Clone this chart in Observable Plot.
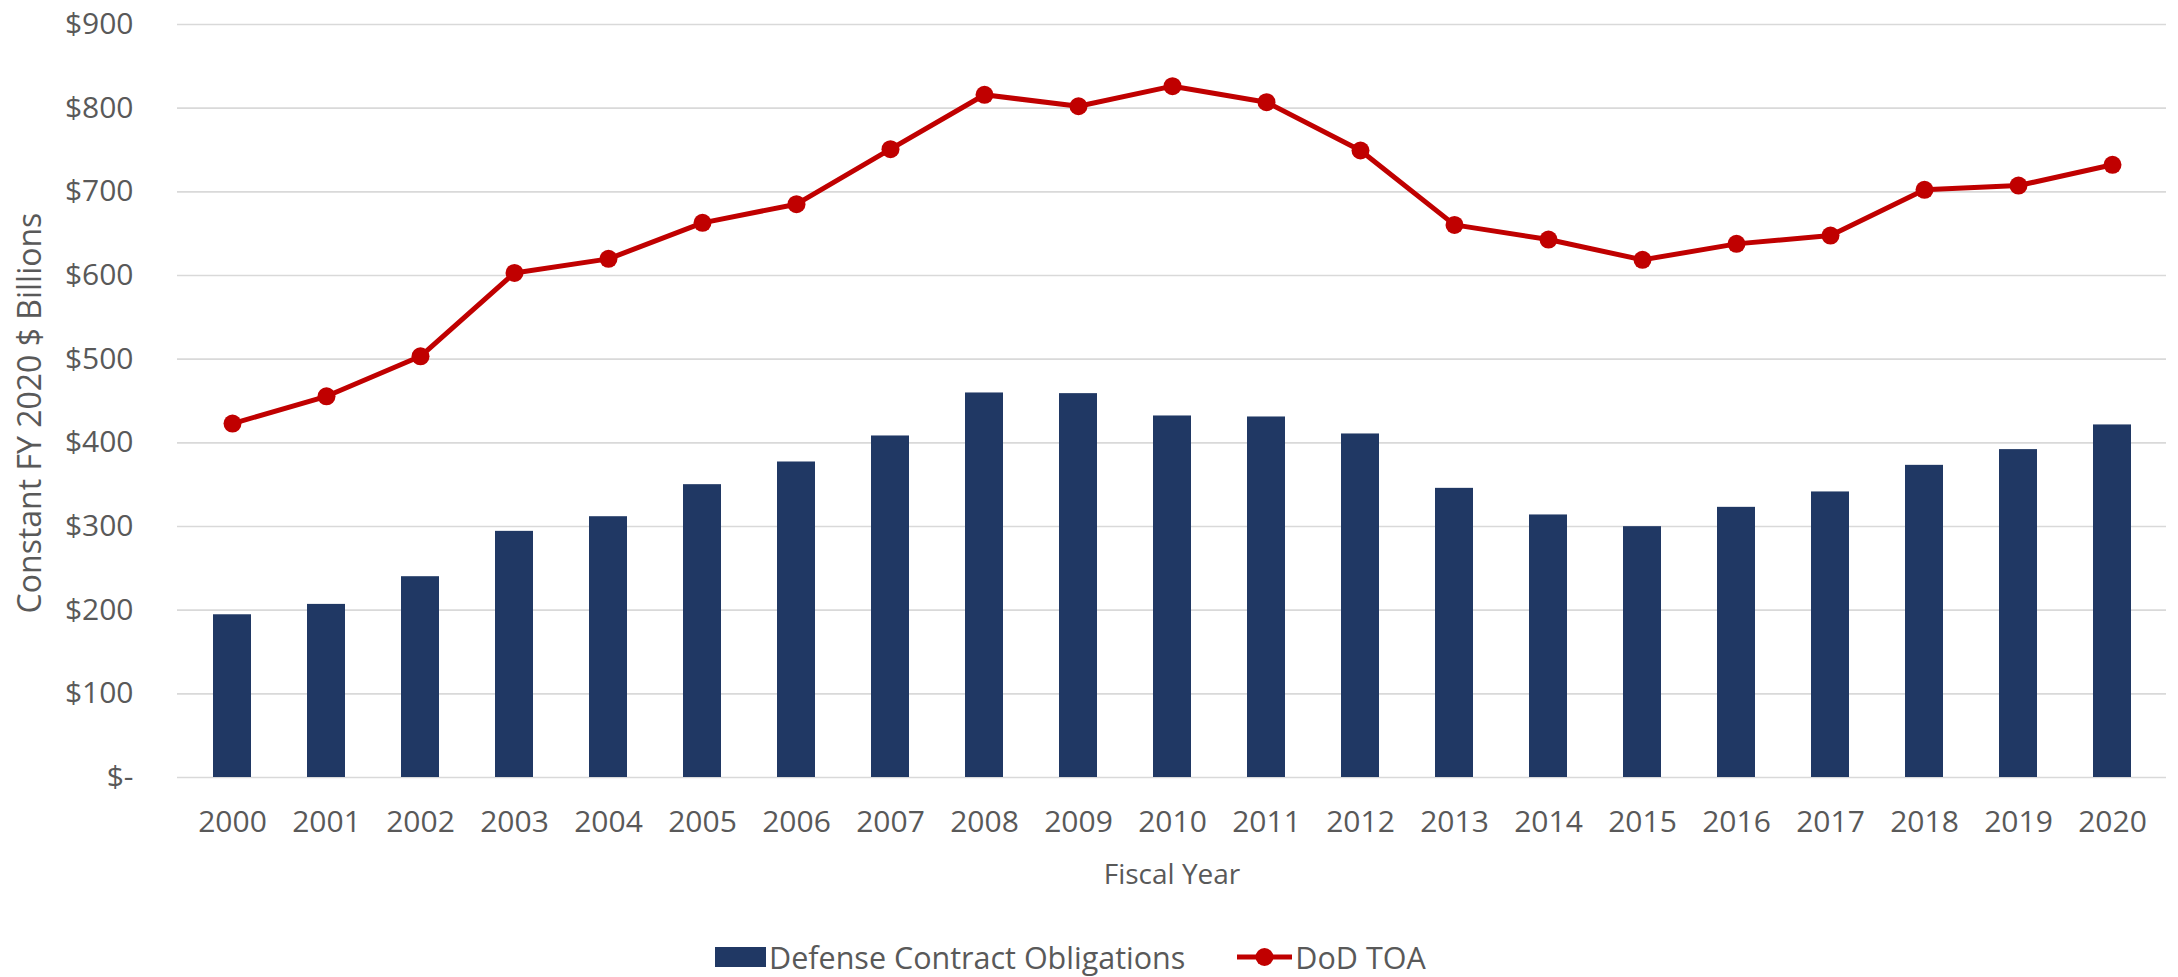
<!DOCTYPE html>
<html><head><meta charset="utf-8">
<script src="https://cdn.jsdelivr.net/npm/d3@7"></script>
<script src="https://cdn.jsdelivr.net/npm/@observablehq/plot@0.6"></script>
<style>
body{margin:0;background:#fff;font-family:"Open Sans",sans-serif;}
#chart{position:relative;width:2178px;height:977px;}
.legend{position:absolute;top:936px;left:715px;display:flex;align-items:center;font-size:30.5px;color:#595959;white-space:nowrap;}
.legend .sw{width:51px;height:20px;background:#203864;margin-right:3px;}
.legend .item2{margin-left:52px;display:flex;align-items:center;}
.legend svg{margin-right:3px;}
</style></head><body><div id="chart"></div>
<script>
const years = ["2000","2001","2002","2003","2004","2005","2006","2007","2008","2009","2010","2011","2012","2013","2014","2015","2016","2017","2018","2019","2020"];
const contractObligations = [194.5, 206.9, 240, 294.2, 311.7, 350, 377.1, 408.2, 459.6, 458.8, 432.1, 430.9, 410.6, 345.6, 313.8, 299.8, 322.9, 341.3, 373.1, 391.9, 421.4];
const dodTOA = [423, 455.6, 503.4, 603.1, 619.9, 662.9, 685.2, 751, 816, 802.3, 826.3, 807.1, 749.4, 660.5, 643, 618.7, 637.8, 647.7, 702.4, 707.5, 732.3];
const yTicks = [0, 100, 200, 300, 400, 500, 600, 700, 800, 900];
const seriesNames = ["Defense Contract Obligations", "DoD TOA"];
const xTitle = "Fiscal Year";
const yTitle = "Constant FY 2020 $ Billions";

const barColor = "#203864", lineColor = "#C00000", textColor = "#595959";
const data = years.map((year, i) => ({year, obligations: contractObligations[i], toa: dodTOA[i]}));

const plot = Plot.plot({
  width: 2178, height: 925,
  marginTop: 24, marginBottom: 148, marginLeft: 177, marginRight: 12,
  style: {fontFamily: "Open Sans", fontSize: "30px", color: textColor, background: "white"},
  x: {type: "band", domain: years, paddingInner: 0.6, paddingOuter: 0.3, label: null},
  y: {domain: [0, 900], label: null},
  marks: [
    Plot.gridY(yTicks, {stroke: "#D9D9D9", strokeOpacity: 1, strokeWidth: 1.6}),
    Plot.axisY({ticks: yTicks, tickSize: 0, tickPadding: 44, fontSize: 30, fill: textColor, label: null,
      tickFormat: d => d === 0 ? "$-" : "$" + d}),
    Plot.axisX({tickSize: 0, tickPadding: 33, fontSize: 30, fill: textColor, label: null}),
    Plot.barY(data, {x: "year", y: "obligations", fill: barColor}),
    Plot.line(data, {x: "year", y: "toa", stroke: lineColor, strokeWidth: 5}),
    Plot.dot(data, {x: "year", y: "toa", r: 9, fill: lineColor}),
    Plot.text([xTitle], {frameAnchor: "bottom", textAnchor: "middle", lineAnchor: "middle", dy: 98, fontSize: 28, fill: textColor}),
    Plot.text([yTitle], {frameAnchor: "left", textAnchor: "middle", lineAnchor: "middle", dx: -147, dy: 12, rotate: -90, fontSize: 32, fill: textColor})
  ]
});
const chart = document.getElementById("chart");
chart.appendChild(plot);

const legend = document.createElement("div");
legend.className = "legend";
legend.innerHTML = `<div class="sw"></div><span>${seriesNames[0]}</span>
<div class="item2"><svg width="55" height="24"><line x1="0" y1="12" x2="55" y2="12" stroke="${lineColor}" stroke-width="5"/><circle cx="27.5" cy="12" r="9" fill="${lineColor}"/></svg><span>${seriesNames[1]}</span></div>`;
chart.appendChild(legend);
</script>
</body></html>
